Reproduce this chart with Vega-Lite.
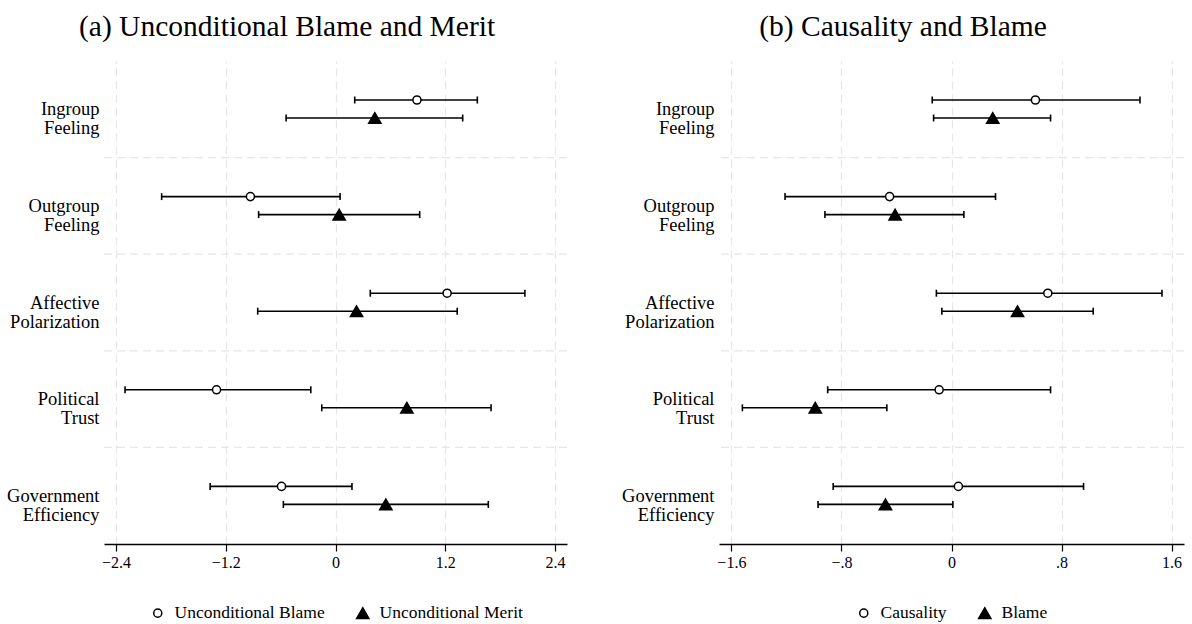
{
  "$schema": "https://vega.github.io/schema/vega-lite/v6.json",
  "background": "white",
  "padding": {"left": 6, "top": 12, "right": 5, "bottom": 5},
  "datasets": {
    "coef": [
      {"panel": "a", "var": "Ingroup Feeling", "series": "Unconditional Blame", "est": 0.89, "lo": 0.21, "hi": 1.55},
      {"panel": "a", "var": "Ingroup Feeling", "series": "Unconditional Merit", "est": 0.43, "lo": -0.54, "hi": 1.39},
      {"panel": "a", "var": "Outgroup Feeling", "series": "Unconditional Blame", "est": -0.93, "lo": -1.90, "hi": 0.05},
      {"panel": "a", "var": "Outgroup Feeling", "series": "Unconditional Merit", "est": 0.04, "lo": -0.84, "hi": 0.92},
      {"panel": "a", "var": "Affective Polarization", "series": "Unconditional Blame", "est": 1.22, "lo": 0.38, "hi": 2.07},
      {"panel": "a", "var": "Affective Polarization", "series": "Unconditional Merit", "est": 0.23, "lo": -0.85, "hi": 1.33},
      {"panel": "a", "var": "Political Trust", "series": "Unconditional Blame", "est": -1.30, "lo": -2.30, "hi": -0.27},
      {"panel": "a", "var": "Political Trust", "series": "Unconditional Merit", "est": 0.78, "lo": -0.15, "hi": 1.70},
      {"panel": "a", "var": "Government Efficiency", "series": "Unconditional Blame", "est": -0.59, "lo": -1.37, "hi": 0.18},
      {"panel": "a", "var": "Government Efficiency", "series": "Unconditional Merit", "est": 0.55, "lo": -0.57, "hi": 1.67},
      {"panel": "b", "var": "Ingroup Feeling", "series": "Causality", "est": 0.61, "lo": -0.14, "hi": 1.37},
      {"panel": "b", "var": "Ingroup Feeling", "series": "Blame", "est": 0.30, "lo": -0.13, "hi": 0.72},
      {"panel": "b", "var": "Outgroup Feeling", "series": "Causality", "est": -0.45, "lo": -1.21, "hi": 0.32},
      {"panel": "b", "var": "Outgroup Feeling", "series": "Blame", "est": -0.41, "lo": -0.92, "hi": 0.09},
      {"panel": "b", "var": "Affective Polarization", "series": "Causality", "est": 0.70, "lo": -0.11, "hi": 1.53},
      {"panel": "b", "var": "Affective Polarization", "series": "Blame", "est": 0.48, "lo": -0.07, "hi": 1.03},
      {"panel": "b", "var": "Political Trust", "series": "Causality", "est": -0.09, "lo": -0.90, "hi": 0.72},
      {"panel": "b", "var": "Political Trust", "series": "Blame", "est": -0.99, "lo": -1.52, "hi": -0.47},
      {"panel": "b", "var": "Government Efficiency", "series": "Causality", "est": 0.05, "lo": -0.86, "hi": 0.96},
      {"panel": "b", "var": "Government Efficiency", "series": "Blame", "est": -0.48, "lo": -0.97, "hi": 0.01}
    ]
  },
  "hconcat": [
    {
      "width": 463,
      "height": 483,
      "title": {"text": "(a) Unconditional Blame and Merit", "fontSize": 29.5, "font": "Liberation Serif", "fontWeight": "normal", "color": "black", "anchor": "middle", "frame": "bounds", "offset": 18.5},
      "data": {"name": "coef"},
      "transform": [{"filter": "datum.panel === 'a'"}],
      "encoding": {
        "y": {"field": "var", "type": "nominal", "title": null,
          "scale": {"domain": ["Ingroup Feeling", "Outgroup Feeling", "Affective Polarization", "Political Trust", "Government Efficiency"], "paddingInner": 0, "paddingOuter": 0},
          "axis": {"domain": false, "ticks": false, "grid": false, "labelFont": "Liberation Serif", "labelFontSize": 18.5, "labelColor": "black", "labelPadding": 5, "labelLineHeight": 19, "labelExpr": "split(datum.label, ' ')"}}
      },
      "layer": [
        {
          "transform": [{"filter": "datum.series === 'Unconditional Blame' && datum.var !== 'Ingroup Feeling'"}],
          "mark": {"type": "rule", "color": "#e6e6e6", "strokeWidth": 1.2, "strokeDash": [8, 5]},
          "encoding": {"y": {"field": "var", "type": "nominal", "bandPosition": 0}}
        },
        {
          "mark": {"type": "rule", "color": "#555555", "strokeWidth": 1.3, "strokeDash": [10, 5]},
          "encoding": {"x": {"datum": 0, "type": "quantitative"}}
        },
        {
          "mark": {"type": "rule", "color": "black", "strokeWidth": 1.6},
          "encoding": {
            "x": {"field": "lo", "type": "quantitative"},
            "x2": {"field": "hi"},
            "yOffset": {"field": "series", "type": "nominal", "scale": {"domain": ["Unconditional Blame", "Unconditional Merit"], "range": [30, 66], "paddingInner": 0, "paddingOuter": 0}}
          }
        },
        {
          "mark": {"type": "tick", "color": "black", "thickness": 1.6, "size": 7, "opacity": 1},
          "encoding": {
            "x": {"field": "lo", "type": "quantitative"},
            "yOffset": {"field": "series", "type": "nominal"}
          }
        },
        {
          "mark": {"type": "tick", "color": "black", "thickness": 1.6, "size": 7, "opacity": 1},
          "encoding": {
            "x": {"field": "hi", "type": "quantitative"},
            "yOffset": {"field": "series", "type": "nominal"}
          }
        },
        {
          "mark": {"type": "point", "filled": true, "stroke": "black", "strokeWidth": 1.5, "opacity": 1},
          "encoding": {
            "x": {"field": "est", "type": "quantitative", "title": null,
              "scale": {"domain": [-2.53, 2.53], "nice": false, "zero": false},
              "axis": {"values": [-2.4, -1.2, 0, 1.2, 2.4], "labelExpr": "datum.value == 0 ? '0' : format(datum.value, '.1f')", "grid": true, "gridColor": "#e6e6e6", "gridDash": [8, 5], "gridWidth": 1.2, "domainColor": "black", "domainWidth": 1.3, "tickColor": "black", "tickSize": 7, "tickWidth": 1.2, "labelFont": "Liberation Serif", "labelFontSize": 16, "labelColor": "black", "labelPadding": 3}},
            "yOffset": {"field": "series", "type": "nominal"},
            "shape": {"field": "series", "type": "nominal", "scale": {"domain": ["Unconditional Blame", "Unconditional Merit"], "range": ["circle", "triangle-up"]}, "legend": {"title": null, "orient": "bottom", "direction": "horizontal", "labelFont": "Liberation Serif", "labelFontSize": 17.5, "labelColor": "black", "columnPadding": 28, "labelOffset": 8, "offset": 34, "encode": {"symbols": {"update": {"stroke": {"value": "black"}, "strokeWidth": {"value": 1.5}}}}}},
            "fill": {"field": "series", "type": "nominal", "scale": {"domain": ["Unconditional Blame", "Unconditional Merit"], "range": ["white", "black"]}, "legend": {"title": null, "orient": "bottom", "direction": "horizontal", "labelFont": "Liberation Serif", "labelFontSize": 17.5, "labelColor": "black", "columnPadding": 28, "labelOffset": 8, "offset": 34, "encode": {"symbols": {"update": {"stroke": {"value": "black"}, "strokeWidth": {"value": 1.5}}}}}},
            "size": {"field": "series", "type": "nominal", "scale": {"domain": ["Unconditional Blame", "Unconditional Merit"], "range": [65, 150]}, "legend": {"title": null, "orient": "bottom", "direction": "horizontal", "labelFont": "Liberation Serif", "labelFontSize": 17.5, "labelColor": "black", "columnPadding": 28, "labelOffset": 8, "offset": 34, "encode": {"symbols": {"update": {"stroke": {"value": "black"}, "strokeWidth": {"value": 1.5}}}}}}
          }
        }
      ]
    },
    {
      "width": 465,
      "height": 483,
      "title": {"text": "(b) Causality and Blame", "fontSize": 29.5, "font": "Liberation Serif", "fontWeight": "normal", "color": "black", "anchor": "middle", "frame": "bounds", "offset": 18.5},
      "data": {"name": "coef"},
      "transform": [{"filter": "datum.panel === 'b'"}],
      "encoding": {
        "y": {"field": "var", "type": "nominal", "title": null,
          "scale": {"domain": ["Ingroup Feeling", "Outgroup Feeling", "Affective Polarization", "Political Trust", "Government Efficiency"], "paddingInner": 0, "paddingOuter": 0},
          "axis": {"domain": false, "ticks": false, "grid": false, "labelFont": "Liberation Serif", "labelFontSize": 18.5, "labelColor": "black", "labelPadding": 5, "labelLineHeight": 19, "labelExpr": "split(datum.label, ' ')"}}
      },
      "layer": [
        {
          "transform": [{"filter": "datum.series === 'Causality' && datum.var !== 'Ingroup Feeling'"}],
          "mark": {"type": "rule", "color": "#e6e6e6", "strokeWidth": 1.2, "strokeDash": [8, 5]},
          "encoding": {"y": {"field": "var", "type": "nominal", "bandPosition": 0}}
        },
        {
          "mark": {"type": "rule", "color": "#555555", "strokeWidth": 1.3, "strokeDash": [10, 5]},
          "encoding": {"x": {"datum": 0, "type": "quantitative"}}
        },
        {
          "mark": {"type": "rule", "color": "black", "strokeWidth": 1.6},
          "encoding": {
            "x": {"field": "lo", "type": "quantitative"},
            "x2": {"field": "hi"},
            "yOffset": {"field": "series", "type": "nominal", "scale": {"domain": ["Causality", "Blame"], "range": [30, 66], "paddingInner": 0, "paddingOuter": 0}}
          }
        },
        {
          "mark": {"type": "tick", "color": "black", "thickness": 1.6, "size": 7, "opacity": 1},
          "encoding": {
            "x": {"field": "lo", "type": "quantitative"},
            "yOffset": {"field": "series", "type": "nominal"}
          }
        },
        {
          "mark": {"type": "tick", "color": "black", "thickness": 1.6, "size": 7, "opacity": 1},
          "encoding": {
            "x": {"field": "hi", "type": "quantitative"},
            "yOffset": {"field": "series", "type": "nominal"}
          }
        },
        {
          "mark": {"type": "point", "filled": true, "stroke": "black", "strokeWidth": 1.5, "opacity": 1},
          "encoding": {
            "x": {"field": "est", "type": "quantitative", "title": null,
              "scale": {"domain": [-1.69, 1.69], "nice": false, "zero": false},
              "axis": {"values": [-1.6, -0.8, 0, 0.8, 1.6], "labelExpr": "datum.value == 0 ? '0' : replace(format(datum.value, '.1f'), '0.', '.')", "grid": true, "gridColor": "#e6e6e6", "gridDash": [8, 5], "gridWidth": 1.2, "domainColor": "black", "domainWidth": 1.3, "tickColor": "black", "tickSize": 7, "tickWidth": 1.2, "labelFont": "Liberation Serif", "labelFontSize": 16, "labelColor": "black", "labelPadding": 3}},
            "yOffset": {"field": "series", "type": "nominal"},
            "shape": {"field": "series", "type": "nominal", "scale": {"domain": ["Causality", "Blame"], "range": ["circle", "triangle-up"]}, "legend": {"title": null, "orient": "bottom", "direction": "horizontal", "labelFont": "Liberation Serif", "labelFontSize": 17.5, "labelColor": "black", "columnPadding": 28, "labelOffset": 8, "offset": 34, "encode": {"symbols": {"update": {"stroke": {"value": "black"}, "strokeWidth": {"value": 1.5}}}}}},
            "fill": {"field": "series", "type": "nominal", "scale": {"domain": ["Causality", "Blame"], "range": ["white", "black"]}, "legend": {"title": null, "orient": "bottom", "direction": "horizontal", "labelFont": "Liberation Serif", "labelFontSize": 17.5, "labelColor": "black", "columnPadding": 28, "labelOffset": 8, "offset": 34, "encode": {"symbols": {"update": {"stroke": {"value": "black"}, "strokeWidth": {"value": 1.5}}}}}},
            "size": {"field": "series", "type": "nominal", "scale": {"domain": ["Causality", "Blame"], "range": [65, 150]}, "legend": {"title": null, "orient": "bottom", "direction": "horizontal", "labelFont": "Liberation Serif", "labelFontSize": 17.5, "labelColor": "black", "columnPadding": 28, "labelOffset": 8, "offset": 34, "encode": {"symbols": {"update": {"stroke": {"value": "black"}, "strokeWidth": {"value": 1.5}}}}}}
          }
        }
      ]
    }
  ],
  "spacing": 53,
  "resolve": {
    "scale": {"x": "independent", "y": "independent", "shape": "independent", "fill": "independent", "size": "independent", "yOffset": "independent"},
    "legend": {"shape": "independent", "fill": "independent", "size": "independent"}
  },
  "config": {
    "view": {"stroke": null},
    "font": "Liberation Serif",
    "legend": {"layout": {"bottom": {"anchor": "middle", "bounds": "flush"}}}
  }
}
